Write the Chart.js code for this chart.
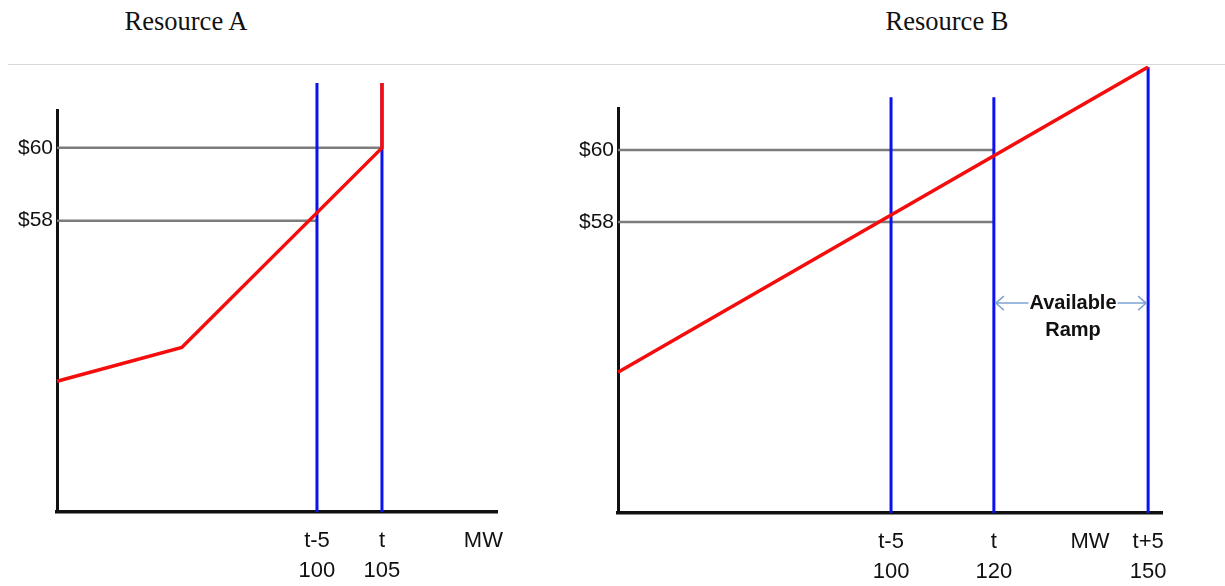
<!DOCTYPE html>
<html>
<head>
<meta charset="utf-8">
<script src="https://cdn.jsdelivr.net/npm/chart.js@4"></script>
<style>
  html, body { margin: 0; padding: 0; background: #fff; }
  body { width: 1225px; height: 586px; position: relative; overflow: hidden; }
  .title { position: absolute; top: 8px; font: 26.5px "Liberation Serif", "Times New Roman", serif; line-height: 26px; color: #111; transform: translateX(-50%); white-space: nowrap; }
  .rule { position: absolute; left: 8px; right: 0; top: 64px; height: 1px; background: #d8d8d8; }
  .box { position: absolute; }
</style>
</head>
<body>
<div class="title" style="left:186px">Resource A</div>
<div class="title" style="left:947px">Resource B</div>
<div class="rule"></div>
<div class="box" style="left:0;top:70px;width:520px;height:516px"><canvas id="chartA"></canvas></div>
<div class="box" style="left:560px;top:66px;width:665px;height:520px"><canvas id="chartB"></canvas></div>
<script>
// Resource A (x = MW, y = $/MWh)
const aOfferX = [80, 89.6, 105, 105];
const aOfferY = [53.59, 54.52, 60, 61.78];
const aLimitX = [100, 105];            // t-5, t
const aLimitTop = 61.78;
const aPriceLevels = [60, 58];
const aPriceEndX = [105, 100];         // where each grey level line stops
const aTickX = [100, 105, 112.8];
const aTickLabels = [['t-5', '100'], ['t', '105'], ['MW', '']];

// Resource B
const bOfferX = [46.9, 150];
const bOfferY = [53.83, 62.31];
const bLimitX = [100, 120, 150];       // t-5, t, t+5
const bLimitTop = [61.47, 61.47, 62.31];
const bPriceLevels = [60, 58];
const bPriceEndX = [120, 120];
const bTickX = [100, 120, 138.7, 150];
const bTickLabels = [['t-5', '100'], ['t', '120'], ['MW', ''], ['t+5', '150']];
const bRamp = { from: 120, to: 150, y: 55.75, text: ['Available', 'Ramp'] };

const priceTicks = [58, 60];

const RED = '#f50d0d';
const BLUE = '#0a12f2';
const GREY = '#7c7c7c';
const AXIS = '#111';
const SANS = '"Liberation Sans", Arial, sans-serif';

function seg(points, color, width, order) {
    return {
        data: points,
        borderColor: color,
        borderWidth: width,
        pointRadius: 0,
        tension: 0,
        clip: false,
        order: order
    };
}

function buildDatasets(offerX, offerY, limitX, limitTop, levels, levelEnd, xMin, yMin) {
    const sets = [];
    sets.push(seg(offerX.map((x, i) => ({ x: x, y: offerY[i] })), RED, 3.5, 0));
    limitX.forEach((x, i) => {
        const top = Array.isArray(limitTop) ? limitTop[i] : limitTop;
        sets.push(seg([{ x: x, y: yMin }, { x: x, y: top }], BLUE, 3, 1));
    });
    levels.forEach((lv, i) => {
        sets.push(seg([{ x: xMin, y: lv }, { x: levelEnd[i], y: lv }], GREY, 2.5, 2));
    });
    return sets;
}

// arrows + "Available Ramp" caption between two MW values
const rampLabel = {
    id: 'rampLabel',
    afterDatasetsDraw(chart, args, opts) {
        if (!opts.ramp) return;
        const r = opts.ramp;
        const ctx = chart.ctx;
        const x1 = chart.scales.x.getPixelForValue(r.from) + 2;
        const x2 = chart.scales.x.getPixelForValue(r.to) - 2;
        const y = chart.scales.y.getPixelForValue(r.y);
        const cx = (x1 + x2) / 2 + 2;
        ctx.save();
        ctx.font = 'bold 20px ' + SANS;
        ctx.textAlign = 'center';
        ctx.textBaseline = 'middle';
        const w = ctx.measureText(r.text[0]).width;
        ctx.strokeStyle = '#7ea3d2';
        ctx.lineWidth = 1.5;
        ctx.beginPath();
        ctx.moveTo(x1, y); ctx.lineTo(cx - w / 2 - 1, y);
        ctx.moveTo(cx + w / 2 + 1, y); ctx.lineTo(x2, y);
        ctx.moveTo(x1 + 8, y - 7); ctx.lineTo(x1, y); ctx.lineTo(x1 + 8, y + 7);
        ctx.moveTo(x2 - 8, y - 7); ctx.lineTo(x2, y); ctx.lineTo(x2 - 8, y + 7);
        ctx.stroke();
        ctx.fillStyle = AXIS;
        ctx.fillText(r.text[0], cx, y);
        ctx.fillText(r.text[1], cx, y + 27);
        ctx.restore();
    }
};

function makeChart(id, cfg) {
    return new Chart(document.getElementById(id), {
        type: 'line',
        data: { datasets: buildDatasets(cfg.offerX, cfg.offerY, cfg.limitX, cfg.limitTop, cfg.levels, cfg.levelEnd, cfg.xMin, cfg.yMin) },
        plugins: [rampLabel],
        options: {
            responsive: true,
            maintainAspectRatio: false,
            animation: false,
            layout: { padding: cfg.padding },
            plugins: {
                legend: { display: false },
                tooltip: { enabled: false },
                rampLabel: { ramp: cfg.ramp }
            },
            scales: {
                x: {
                    type: 'linear',
                    min: cfg.xMin, max: cfg.xMax,
                    afterBuildTicks: s => { s.ticks = cfg.tickX.map(v => ({ value: v })); },
                    afterFit: s => { s.height = cfg.xAxisH; },
                    grid: { display: true, color: 'rgba(0,0,0,0)', drawTicks: false },
                    border: { display: true, color: AXIS, width: 3.5 },
                    ticks: {
                        autoSkip: false, maxRotation: 0, padding: 14,
                        color: AXIS,
                        font: { family: SANS, size: 22, lineHeight: 1.35 },
                        callback: (v, i) => cfg.tickLabels[i]
                    }
                },
                y: {
                    type: 'linear',
                    min: cfg.yMin, max: cfg.yMax,
                    afterBuildTicks: s => { s.ticks = priceTicks.map(v => ({ value: v })); },
                    afterFit: s => { s.width = cfg.yAxisW; },
                    grid: { display: true, color: 'rgba(0,0,0,0)', drawTicks: false },
                    border: { display: true, color: AXIS, width: 3 },
                    ticks: {
                        padding: 4,
                        color: AXIS,
                        font: { family: SANS, size: 21 },
                        callback: v => '$' + v
                    }
                }
            }
        }
    });
}

makeChart('chartA', {
    offerX: aOfferX, offerY: aOfferY, limitX: aLimitX, limitTop: aLimitTop,
    levels: aPriceLevels, levelEnd: aPriceEndX,
    tickX: aTickX, tickLabels: aTickLabels,
    xMin: 80, xMax: 113.85, yMin: 50, yMax: 61.04,
    yAxisW: 57, xAxisH: 74,
    padding: { left: 0, top: 40, right: 23, bottom: 0 },
    ramp: null
});

makeChart('chartB', {
    offerX: bOfferX, offerY: bOfferY, limitX: bLimitX, limitTop: bLimitTop,
    levels: bPriceLevels, levelEnd: bPriceEndX,
    tickX: bTickX, tickLabels: bTickLabels,
    xMin: 46.9, xMax: 152.7, yMin: 49.92, yMax: 61.17,
    yAxisW: 58, xAxisH: 73,
    padding: { left: 0, top: 42, right: 63, bottom: 0 },
    ramp: bRamp
});
</script>
</body>
</html>
